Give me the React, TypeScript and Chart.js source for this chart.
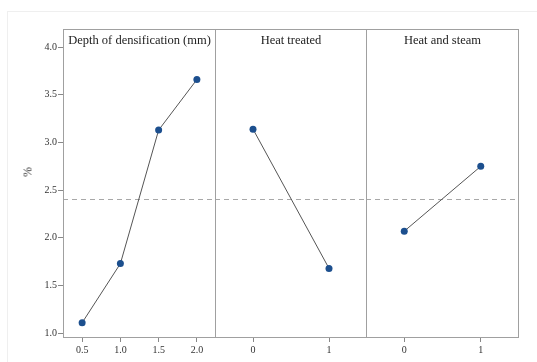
import React, { useEffect, useRef } from "react";
import { Chart, registerables } from "chart.js";

Chart.register(...registerables);

const depthCategories = ["0.5", "1.0", "1.5", "2.0"];
const depthValues = [1.11, 1.73, 3.13, 3.66];
const heatCategories = ["0", "1"];
const heatValues = [3.14, 1.68];
const steamCategories = ["0", "1"];
const steamValues = [2.07, 2.75];
const panelTitles = ["Depth of densification (mm)", "Heat treated", "Heat and steam"];
const yTicks = [1.0, 1.5, 2.0, 2.5, 3.0, 3.5, 4.0];
const meanValue = 2.41;
const yMin = 0.95;
const yMax = 4.19;

const FONT = '"Liberation Serif", "Times New Roman", Times, serif';

const panelPlugin = {
  id: "panelDeco",
  beforeDatasetsDraw(chart: any) {
    const { ctx, chartArea, scales } = chart;
    const y = scales.y.getPixelForValue(meanValue);
    ctx.save();
    ctx.strokeStyle = "#a8a8a8";
    ctx.lineWidth = 1;
    ctx.setLineDash([5, 4]);
    ctx.beginPath();
    ctx.moveTo(chartArea.left, Math.round(y) + 0.5);
    ctx.lineTo(chartArea.right, Math.round(y) + 0.5);
    ctx.stroke();
    ctx.restore();
  },
  afterDraw(chart: any) {
    const { ctx, chartArea } = chart;
    const title = chart.options.plugins.panelDeco.title;
    ctx.save();
    ctx.strokeStyle = "#a0a0a0";
    ctx.lineWidth = 1;
    ctx.strokeRect(
      Math.round(chartArea.left) + 0.5,
      Math.round(chartArea.top) + 0.5,
      Math.round(chartArea.right - chartArea.left) - 1,
      Math.round(chartArea.bottom - chartArea.top) - 1
    );
    ctx.fillStyle = "#222";
    ctx.font = `12.5px ${FONT}`;
    ctx.textAlign = "center";
    ctx.textBaseline = "middle";
    ctx.fillText(title, (chartArea.left + chartArea.right) / 2, chartArea.top + 12);
    ctx.restore();
  },
};

function Panel(props: {
  labels: string[];
  values: number[];
  title: string;
  showY: boolean;
  left: number;
  width: number;
}) {
  const ref = useRef<HTMLCanvasElement | null>(null);
  useEffect(() => {
    if (!ref.current) return;
    const chart = new Chart(ref.current, {
      type: "line",
      data: {
        labels: props.labels,
        datasets: [
          {
            data: props.values,
            borderColor: "#555555",
            borderWidth: 1,
            pointBackgroundColor: "#1c4f8e",
            pointBorderColor: "#1c4f8e",
            pointRadius: 3.5,
            pointBorderWidth: 0,
            tension: 0,
          },
        ],
      },
      options: {
        animation: false,
        responsive: false,
        maintainAspectRatio: false,
        layout: { autoPadding: false, padding: { top: 29, left: 0, right: 0, bottom: 0 } },
        plugins: {
          legend: { display: false },
          tooltip: { enabled: false },
          panelDeco: { title: props.title },
        } as any,
        scales: {
          x: {
            type: "category",
            offset: true,
            grid: { display: true, drawOnChartArea: false, drawTicks: true, tickLength: 4, color: "#888" },
            border: { display: false },
            ticks: { color: "#333", font: { family: FONT, size: 10 }, padding: 2, maxRotation: 0 },
            afterFit: (scale: any) => {
              scale.height = 24;
              scale.paddingLeft = 0;
              scale.paddingRight = 0;
            },
          },
          y: {
            display: props.showY,
            min: yMin,
            max: yMax,
            afterBuildTicks: (scale: any) => {
              scale.ticks = yTicks.map((v) => ({ value: v }));
            },
            grid: {
              display: true,
              drawOnChartArea: false,
              drawTicks: true,
              tickLength: 5,
              color: "#888",
            },
            border: { display: false },
            ticks: {
              color: "#333",
              font: { family: FONT, size: 10 },
              padding: 1,
              callback: (v: any) => Number(v).toFixed(1),
            },
            afterFit: (scale: any) => {
              scale.width = props.showY ? 63 : 0;
              scale.paddingTop = 0;
              scale.paddingBottom = 0;
            },
          },
        },
      },
      plugins: [panelPlugin],
    });
    return () => chart.destroy();
  }, []);
  return (
    <canvas
      ref={ref}
      width={props.width}
      height={362}
      style={{ position: "absolute", left: props.left, top: 0, width: props.width, height: 362 }}
    />
  );
}

export default function App() {
  return (
    <div
      style={{
        position: "absolute",
        left: 0,
        top: 0,
        width: 537,
        height: 362,
        background: "#fff",
        overflow: "hidden",
      }}
    >
      <div
        style={{
          position: "absolute",
          left: 7,
          top: 11,
          width: 540,
          height: 360,
          borderTop: "1px solid #efefef",
          borderLeft: "1px solid #efefef",
        }}
      />
      <Panel labels={depthCategories} values={depthValues} title={panelTitles[0]} showY={true} left={0} width={216} />
      <Panel labels={heatCategories} values={heatValues} title={panelTitles[1]} showY={false} left={215} width={152} />
      <Panel labels={steamCategories} values={steamValues} title={panelTitles[2]} showY={false} left={366} width={153} />
      <div
        style={{
          position: "absolute",
          left: 28,
          top: 172,
          transform: "translate(-50%, -50%) rotate(-90deg)",
          fontFamily: FONT,
          fontSize: 12,
          color: "#333",
        }}
      >
        %
      </div>
    </div>
  );
}
